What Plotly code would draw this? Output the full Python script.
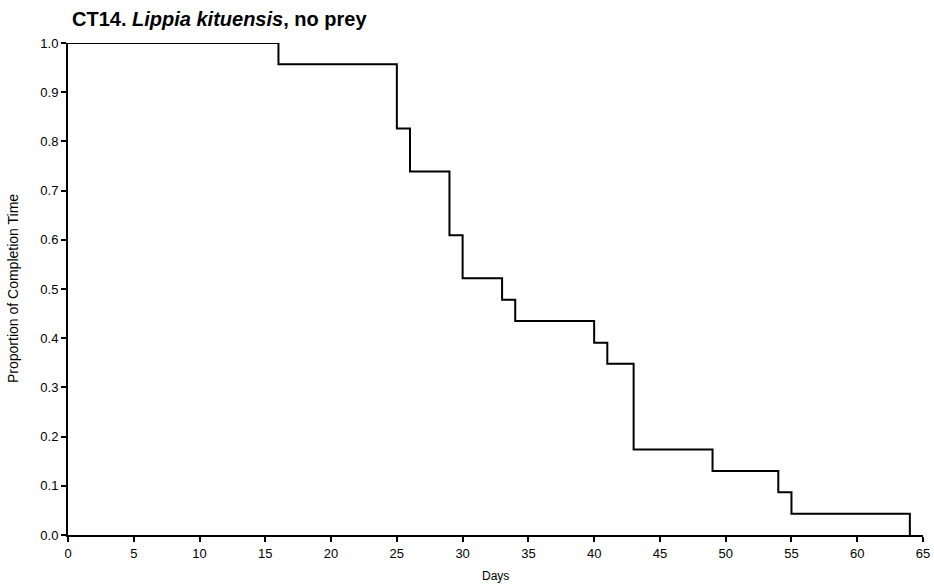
import plotly.graph_objects as go

days = [0, 16, 25, 26, 29, 30, 33, 34, 40, 41, 43, 49, 54, 55, 64]
proportion = [1.0, 0.957, 0.826, 0.739, 0.609, 0.522, 0.478, 0.435, 0.391, 0.348, 0.174, 0.130, 0.087, 0.043, 0.0]
x_ticks = list(range(0, 70, 5))
y_ticks = [round(i * 0.1, 1) for i in range(11)]

FONT = "Liberation Sans, Arial, sans-serif"
W, H = 934, 587
L, R, T, B = 68, 11, 43, 52
PW = W - L - R
PH = H - T - B

fig = go.Figure()
fig.add_trace(go.Scatter(
    x=days, y=proportion, mode="lines", line=dict(shape="hv", color="black", width=2),
    cliponaxis=False, showlegend=False, hoverinfo="skip"))

fig.update_layout(
    width=W, height=H,
    margin=dict(l=L, r=R, t=T, b=B, autoexpand=False),
    paper_bgcolor="white", plot_bgcolor="white",
    font=dict(family=FONT, color="black", size=13),
    title=dict(text="<b>CT14. <i>Lippia kituensis</i>, no prey</b>",
               x=72 / W, xanchor="left", y=1 - 19 / H, yanchor="middle",
               font=dict(size=20, family=FONT, color="black")),
    annotations=[
        dict(text="Proportion of Completion Time", textangle=-90,
             xref="paper", yref="paper", x=(13 - L) / PW, y=0.5,
             xanchor="center", yanchor="middle", showarrow=False,
             font=dict(size=14, family=FONT, color="black")),
        dict(text="Days", xref="paper", yref="paper", x=0.5, y=-(576 - (H - B)) / PH,
             xanchor="center", yanchor="middle", showarrow=False,
             font=dict(size=12, family=FONT, color="black")),
    ],
)
fig.update_xaxes(
    range=[0, 65], tickvals=x_ticks, ticktext=[str(v) for v in x_ticks],
    showgrid=False, zeroline=False, showline=True, linecolor="black", linewidth=2,
    ticks="outside", ticklen=5, tickwidth=2, tickcolor="black",
    tickfont=dict(size=13, family=FONT), automargin=False,
)
fig.update_yaxes(
    range=[0, 1], tickvals=y_ticks, ticktext=[f"{v:.1f}" for v in y_ticks],
    showgrid=False, zeroline=False, showline=True, linecolor="black", linewidth=2,
    ticks="outside", ticklen=5, tickwidth=2, tickcolor="black",
    tickfont=dict(size=13, family=FONT), automargin=False,
)

fig.write_html("out.html")
